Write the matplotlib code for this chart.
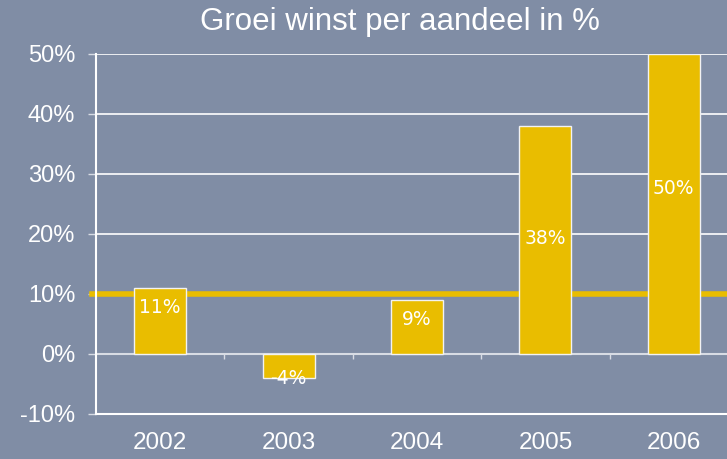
import numpy as np
import matplotlib
matplotlib.use('Agg')
import matplotlib.pyplot as plt

# data
years = ['2002', '2003', '2004', '2005', '2006']
growth = [11, -4, 9, 38, 50]
labels = ['11%', '-4%', '9%', '38%', '50%']
label_y = [7.7, -4.0, 5.8, 19.2, 27.5]
target = 10
yticks = [-10, 0, 10, 20, 30, 40, 50]

bg = '#808da5'
yellow = '#e9bd00'

fig = plt.figure(figsize=(7.27, 4.59), dpi=100)
fig.patch.set_facecolor(bg)
ax = fig.add_axes([96 / 727, 45 / 459, 642 / 727, 360 / 459])
ax.set_facecolor(bg)

x = np.arange(len(years))
ax.set_xlim(-0.5, len(years) - 0.5)
ax.set_ylim(-10, 50)

# gridlines
for t in yticks[1:]:
    ax.axhline(t, color='white', lw=1.2, zorder=1)
ax.axhline(0, color='#d8dce4', lw=1.5, zorder=2)

# target line (behind bars)
ax.axhline(target, xmin=-0.007, color=yellow, lw=4, zorder=2, clip_on=False)

ax.bar(x, growth, width=0.405, color=yellow, edgecolor='#f2f2f2', lw=1, zorder=3)

for xi, lab, yl in zip(x, labels, label_y):
    ax.text(xi, yl, lab, color='white', fontsize=13.5, family='DejaVu Sans',
            ha='center', va='center', zorder=4)

# small ticks on the zero line between categories
ax.vlines(x[:-1] + 0.5, -0.8, 0, color='#d8dce4', lw=1, zorder=2)

for s in ['top', 'right']:
    ax.spines[s].set_visible(False)
for s in ['left', 'bottom']:
    ax.spines[s].set_color('white')
    ax.spines[s].set_linewidth(1.5)

ax.set_yticks(yticks)
ax.set_yticklabels([f'{t}%' for t in yticks])
ax.set_xticks(x)
ax.set_xticklabels(years)
ax.tick_params(axis='y', colors='#d8dce4', length=6, width=1, pad=9,
               labelsize=17, labelcolor='white')
ax.tick_params(axis='x', length=0, pad=13, labelsize=17.5, labelcolor='white')
for t in ax.get_xticklabels() + ax.get_yticklabels():
    t.set_family('Liberation Sans')

fig.text(0.55, 1 - 30 / 459, 'Groei winst per aandeel in %', color='white',
         fontsize=22.5, family='Liberation Sans', ha='center', va='baseline')

fig.savefig('out.png', dpi=100, facecolor=bg)
